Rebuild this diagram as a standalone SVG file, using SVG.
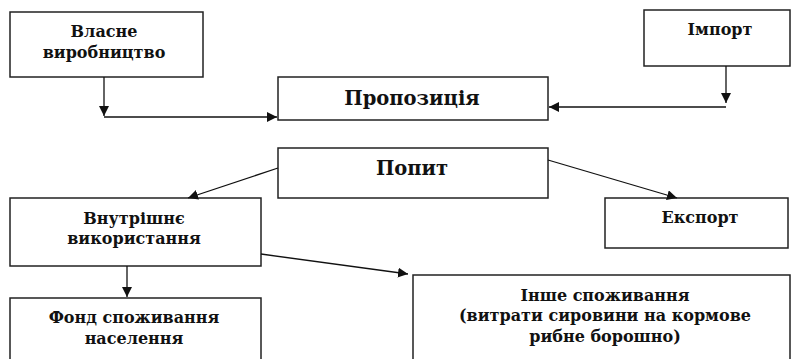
<svg xmlns="http://www.w3.org/2000/svg" width="793" height="359" viewBox="0 0 793 359">
<defs>
<style>
.box{fill:#fff;stroke:#222;stroke-width:1.5}
.t{font-family:"DejaVu Serif","Liberation Serif",serif;font-weight:bold;font-size:16px;fill:#111;text-anchor:middle}
.big{font-size:19.5px}
.c{fill:none;stroke:#111;stroke-width:1.3}
</style>
<marker id="ah" viewBox="0 0 10 10" refX="10" refY="5" markerWidth="10" markerHeight="10" markerUnits="userSpaceOnUse" orient="auto"><path d="M0,0 L10,5 L0,10 z" fill="#111"/></marker>
</defs>
<rect width="793" height="359" fill="#fff"/>
<g id="vlasne"><rect class="box" x="10" y="12" width="193" height="65"/><text class="t" x="104" y="37">Власне</text><text class="t" x="104" y="58">виробництво</text></g>
<g id="import"><rect class="box" x="644" y="10" width="146" height="56"/><text class="t" x="720" y="35">Імпорт</text></g>
<g id="propozytsiya"><rect class="box" x="278" y="77" width="270" height="43"/><text class="t big" x="412" y="105">Пропозиція</text></g>
<g id="popyt"><rect class="box" x="278" y="148" width="270" height="50"/><text class="t big" x="412" y="175">Попит</text></g>
<g id="vnutrishne"><rect class="box" x="10" y="198" width="251" height="68"/><text class="t" x="134" y="224">Внутрішнє</text><text class="t" x="134" y="244">використання</text></g>
<g id="eksport"><rect class="box" x="605" y="198" width="183" height="50"/><text class="t" x="700" y="223">Експорт</text></g>
<g id="fond"><rect class="box" x="10" y="298" width="251" height="70"/><text class="t" x="134" y="323">Фонд споживання</text><text class="t" x="134" y="344">населення</text></g>
<g id="inshe"><rect class="box" x="413" y="275" width="377" height="95"/><text class="t" x="605" y="301">Інше споживання</text><text class="t" x="605" y="321">(витрати сировини на кормове</text><text class="t" x="605" y="342">рибне борошно)</text></g>
<g id="connectors">
<line class="c" x1="104" y1="77" x2="104" y2="116" marker-end="url(#ah)"/>
<line class="c" x1="104" y1="117" x2="277" y2="117" marker-end="url(#ah)"/>
<line class="c" x1="726" y1="66" x2="726" y2="103" marker-end="url(#ah)"/>
<line class="c" x1="726" y1="107" x2="549" y2="107" marker-end="url(#ah)"/>
<line class="c" x1="278" y1="168" x2="188" y2="198" marker-end="url(#ah)"/>
<line class="c" x1="548" y1="160" x2="677" y2="198" marker-end="url(#ah)"/>
<line class="c" x1="127" y1="266" x2="127" y2="297" marker-end="url(#ah)"/>
<line class="c" x1="261" y1="254" x2="408" y2="274" marker-end="url(#ah)"/>
</g>
</svg>
